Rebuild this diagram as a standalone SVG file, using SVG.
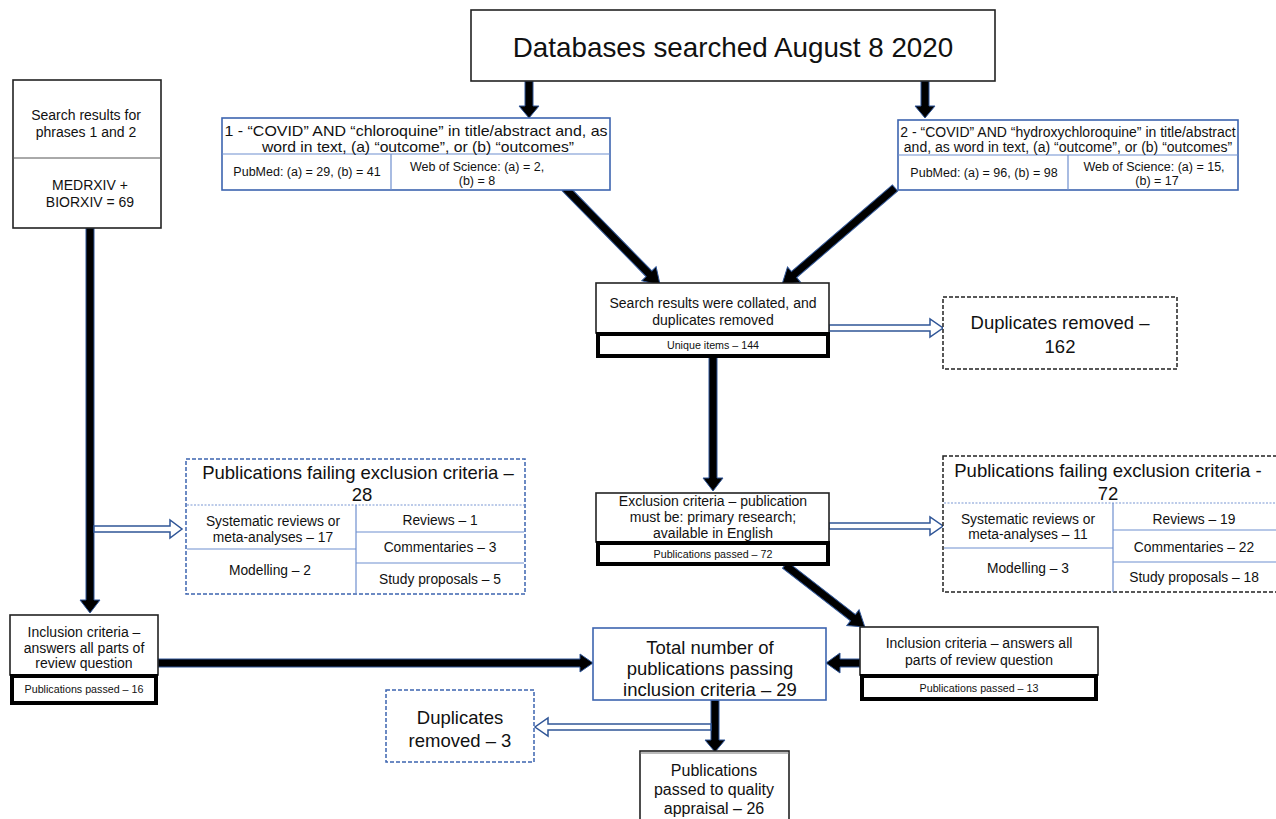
<svg xmlns="http://www.w3.org/2000/svg" width="1276" height="819" viewBox="0 0 1276 819">
<style>
text{font-family:"Liberation Sans",Arial,sans-serif;fill:#111;text-anchor:middle}
.t15{font-size:15px}.t16{font-size:16px}.t14{font-size:14px}.t13{font-size:13.8px}.t125{font-size:12.5px}.t10{font-size:10.7px}.t19{font-size:18.5px}.t27{font-size:27.8px}
.box{fill:#fff;stroke:#222;stroke-width:1.6}
.bbox{fill:#fff;stroke:#3d64b0;stroke-width:1.6}
.thick{fill:#fff;stroke:#000;stroke-width:4}
.dashk{fill:#fff;stroke:#222;stroke-width:1.5;stroke-dasharray:4 2}
.dashb{fill:#fff;stroke:#3d64b0;stroke-width:1.5;stroke-dasharray:4 2}
.ln{stroke:#6f8fcf;stroke-width:1.2}
.lnk{stroke:#555;stroke-width:1}
.dot{stroke:#7a98d4;stroke-width:1.2;stroke-dasharray:2 1.5}
.arr{fill:#000;stroke:#2f5597;stroke-width:1}
.hol{fill:#fff;stroke:#2f5597;stroke-width:1.5}
</style>
<g id="connectors">
<polygon class="arr" points="525,81 533,81 533,106 539,106 529,118 519,106 525,106"/>
<polygon class="arr" points="921,81 929,81 929,106 935,106 925,118 915,106 921,106"/>
<polygon class="arr" points="86,228 94,228 94,600 100,600 90,613 80,600 86,600"/>
<polygon class="arr" transform="translate(565,188) rotate(45.6)" points="0,-4 120,-4 120,-10 136,0 120,10 120,4 0,4"/>
<polygon class="arr" transform="translate(895,188) rotate(139.4)" points="0,-4 133,-4 133,-10 149,0 133,10 133,4 0,4"/>
<polygon class="arr" points="709,357 717,357 717,478 723,478 713,491 703,478 709,478"/>
<polygon class="arr" transform="translate(785,565) rotate(37.8)" points="0,-4 86,-4 86,-10 101,0 86,10 86,4 0,4"/>
<polygon class="arr" points="158,659 580,659 580,654 593,663 580,672 580,667 158,667"/>
<polygon class="arr" points="860,659 840,659 840,653 826,663 840,673 840,667 860,667"/>
<polygon class="arr" points="711,700 719,700 719,740 725,740 715,752 705,740 711,740"/>
<polygon class="hol" points="829,325 930,325 930,319 943,328 930,337 930,331 829,331"/>
<polygon class="hol" points="829,523 930,523 930,517 943,526 930,535 930,529 829,529"/>
<polygon class="hol" points="94,526 170,526 170,520 182,529 170,538 170,532 94,532"/>
<polygon class="hol" points="711,724 548,724 548,718 535,727 548,736 548,730 711,730"/>
</g>
<g id="databases">
<rect class="box" x="471" y="10" width="524" height="71"/>
<text class="t27" x="733" y="57">Databases searched August 8 2020</text>
</g>
<g id="search-preprints">
<rect class="box" x="13" y="80" width="148" height="148"/>
<line class="lnk" x1="13" y1="158" x2="161" y2="158"/>
<text class="t14" x="86" y="120">Search results for</text>
<text class="t14" x="86" y="137">phrases 1 and 2</text>
<text class="t14" x="90" y="190">MEDRXIV +</text>
<text class="t14" x="90" y="207">BIORXIV = 69</text>
</g>
<g id="phrase1">
<rect class="bbox" x="222" y="118" width="388" height="72"/>
<line class="ln" x1="222" y1="154" x2="610" y2="154"/>
<line class="ln" x1="391" y1="154" x2="391" y2="190"/>
<text class="t15" x="416" y="135.5" textLength="383" lengthAdjust="spacingAndGlyphs">1 - “COVID” AND “chloroquine” in title/abstract and, as</text>
<text class="t15" x="418" y="151.5" textLength="312" lengthAdjust="spacingAndGlyphs">word in text, (a) “outcome”, or (b) “outcomes”</text>
<text class="t125" x="307" y="176">PubMed:  (a) = 29, (b) = 41</text>
<text class="t125" x="477" y="171">Web of Science:  (a) = 2,</text>
<text class="t125" x="477" y="185">(b) = 8</text>
</g>
<g id="phrase2">
<rect class="bbox" x="898" y="120" width="340" height="70"/>
<line class="ln" x1="898" y1="155" x2="1238" y2="155"/>
<line class="ln" x1="1068" y1="155" x2="1068" y2="190"/>
<text class="t14" x="1068" y="137">2 - “COVID” AND “hydroxychloroquine” in title/abstract</text>
<text class="t14" x="1068" y="152">and, as word in text, (a) “outcome”, or (b) “outcomes”</text>
<text class="t125" x="984" y="177">PubMed:  (a) = 96, (b) = 98</text>
<text class="t125" x="1154" y="171">Web of Science:  (a) = 15,</text>
<text class="t125" x="1157" y="185">(b) = 17</text>
</g>
<g id="collated">
<rect class="box" x="596" y="283" width="233" height="50"/>
<rect class="thick" x="598" y="334" width="230" height="22"/>
<text class="t14" x="713" y="308">Search results were collated, and</text>
<text class="t14" x="713" y="325">duplicates removed</text>
<text class="t10" x="713" y="349">Unique items – 144</text>
</g>
<g id="dup162">
<rect class="dashk" x="943" y="297" width="234" height="72"/>
<text class="t19" x="1060" y="329">Duplicates removed –</text>
<text class="t19" x="1060" y="353">162</text>
</g>
<g id="exclusion">
<rect class="box" x="596" y="493" width="233" height="49"/>
<rect class="thick" x="598" y="543" width="230" height="21"/>
<text class="t14" x="713" y="506">Exclusion criteria – publication</text>
<text class="t14" x="713" y="522">must be: primary research;</text>
<text class="t14" x="713" y="538">available in English</text>
<text class="t10" x="713" y="558">Publications passed – 72</text>
</g>
<g id="fail72">
<rect class="dashk" x="943" y="456" width="340" height="136"/>
<line class="dot" x1="944" y1="503" x2="1276" y2="503"/>
<line class="ln" x1="1113" y1="503" x2="1113" y2="592"/>
<line class="ln" x1="944" y1="548" x2="1113" y2="548"/>
<line class="ln" x1="1113" y1="530" x2="1276" y2="530"/>
<line class="ln" x1="1113" y1="562" x2="1276" y2="562"/>
<text class="t19" x="1108" y="477">Publications failing exclusion criteria -</text>
<text class="t19" x="1108" y="500">72</text>
<text class="t13" x="1028" y="524">Systematic reviews or</text>
<text class="t13" x="1028" y="539">meta-analyses – 11</text>
<text class="t13" x="1028" y="573">Modelling – 3</text>
<text class="t13" x="1194" y="524">Reviews – 19</text>
<text class="t13" x="1194" y="552">Commentaries – 22</text>
<text class="t13" x="1194" y="582">Study proposals – 18</text>
</g>
<g id="fail28">
<rect class="dashb" x="186" y="459" width="339" height="135"/>
<line class="dot" x1="187" y1="505" x2="524" y2="505"/>
<line class="ln" x1="356" y1="505" x2="356" y2="593"/>
<line class="ln" x1="187" y1="549" x2="356" y2="549"/>
<line class="ln" x1="356" y1="532" x2="524" y2="532"/>
<line class="ln" x1="356" y1="563" x2="524" y2="563"/>
<text class="t19" x="358" y="479">Publications failing exclusion criteria –</text>
<text class="t19" x="362" y="501">28</text>
<text class="t13" x="273" y="526">Systematic reviews or</text>
<text class="t13" x="273" y="542">meta-analyses – 17</text>
<text class="t13" x="270" y="575">Modelling – 2</text>
<text class="t13" x="440" y="525">Reviews – 1</text>
<text class="t13" x="440" y="552">Commentaries – 3</text>
<text class="t13" x="440" y="584">Study proposals – 5</text>
</g>
<g id="inclusion-left">
<rect class="box" x="10" y="615" width="148" height="60"/>
<rect class="thick" x="12" y="676" width="144" height="27"/>
<text class="t14" x="84" y="637">Inclusion criteria –</text>
<text class="t14" x="84" y="653">answers all parts of</text>
<text class="t14" x="84" y="668">review question</text>
<text class="t10" x="84" y="693">Publications passed – 16</text>
</g>
<g id="total">
<rect class="bbox" x="593" y="628" width="233" height="72"/>
<text class="t19" x="710" y="654">Total number of</text>
<text class="t19" x="710" y="675">publications passing</text>
<text class="t19" x="710" y="696">inclusion criteria – 29</text>
</g>
<g id="inclusion-right">
<rect class="box" x="860" y="627" width="238" height="48"/>
<rect class="thick" x="862" y="676" width="234" height="23"/>
<text class="t14" x="979" y="648">Inclusion criteria – answers all</text>
<text class="t14" x="979" y="665">parts of review question</text>
<text class="t10" x="979" y="692">Publications passed – 13</text>
</g>
<g id="dup3">
<rect class="dashb" x="386" y="690" width="148" height="72"/>
<text class="t19" x="460" y="724">Duplicates</text>
<text class="t19" x="460" y="747">removed – 3</text>
</g>
<g id="quality">
<rect class="box" x="640" y="751" width="149" height="80"/>
<line x1="640" y1="753" x2="789" y2="753" stroke="#777" stroke-width="1"/>
<text class="t16" x="714" y="776">Publications</text>
<text class="t16" x="714" y="795">passed to quality</text>
<text class="t16" x="714" y="814">appraisal – 26</text>
</g>
</svg>
